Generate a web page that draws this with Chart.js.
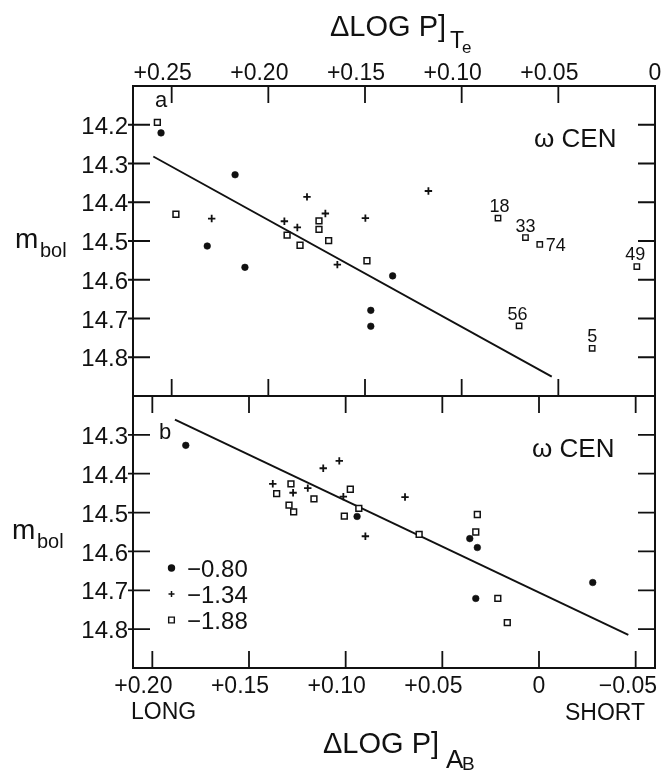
<!DOCTYPE html>
<html><head><meta charset="utf-8">
<script src="https://cdn.jsdelivr.net/npm/chart.js@4/dist/chart.umd.min.js"></script>
<style>
html,body{margin:0;padding:0;background:#fff;}
#wrap{position:relative;width:662px;height:772px;overflow:hidden;}
canvas{position:absolute;left:0;top:0;}
</style></head><body>
<div id="wrap"><canvas id="ca" width="662" height="772"></canvas><canvas id="cb" width="662" height="772"></canvas></div>
<script>
// ---------- Panel a (top) ----------
const aTickX = [0.25, 0.20, 0.15, 0.10, 0.05, 0];
const aTickXLabels = ['+0.25', '+0.20', '+0.15', '+0.10', '+0.05', '0'];
const aTickY = [14.2, 14.3, 14.4, 14.5, 14.6, 14.7, 14.8];
const aTickYLabels = ['14.2', '14.3', '14.4', '14.5', '14.6', '14.7', '14.8'];

const aCircX = [0.2555, 0.2172, 0.2316, 0.2121, 0.1470, 0.1470, 0.1357];
const aCircY = [14.221, 14.329, 14.513, 14.568, 14.679, 14.720, 14.590];
const aPlusX = [0.2293, 0.1917, 0.1850, 0.1800, 0.1705, 0.1643, 0.1498, 0.1172];
const aPlusY = [14.442, 14.449, 14.465, 14.386, 14.429, 14.561, 14.441, 14.371];
const aSqX = [0.2574, 0.2478, 0.1903, 0.1836, 0.1738, 0.1738, 0.1688, 0.1490];
const aSqY = [14.194, 14.431, 14.485, 14.511, 14.448, 14.470, 14.499, 14.551];
// labelled stars
const aStarNames = ['18', '33', '74', '49', '56', '5'];
const aStarX = [0.0812, 0.0670, 0.0596, 0.0094, 0.0703, 0.0325];
const aStarY = [14.441, 14.491, 14.509, 14.566, 14.719, 14.777];
const aLineX = [0.2595, 0.0534];
const aLineY = [14.282, 14.850];

// ---------- Panel b (bottom) ----------
const bTickX = [0.20, 0.15, 0.10, 0.05, 0, -0.05];
const bTickXLabels = ['+0.20', '+0.15', '+0.10', '+0.05', '0', '\u22120.05'];
const bTickY = [14.3, 14.4, 14.5, 14.6, 14.7, 14.8];
const bTickYLabels = ['14.3', '14.4', '14.5', '14.6', '14.7', '14.8'];

const bCircX = [0.1827, 0.0941, 0.0358, 0.0319, -0.0278, 0.0327];
const bCircY = [14.327, 14.510, 14.567, 14.590, 14.680, 14.721];
const bPlusX = [0.1377, 0.1272, 0.1196, 0.1116, 0.1033, 0.1012, 0.0898, 0.0693];
const bPlusY = [14.426, 14.449, 14.437, 14.386, 14.367, 14.459, 14.561, 14.460];
const bSqX = [0.1357, 0.1283, 0.1293, 0.1269, 0.1164, 0.0976, 0.1007, 0.0932, 0.0620, 0.0319, 0.0327, 0.0213, 0.0164];
const bSqY = [14.451, 14.426, 14.481, 14.498, 14.465, 14.440, 14.509, 14.489, 14.556, 14.505, 14.550, 14.721, 14.783];
const bLineX = [0.1883, -0.0462];
const bLineY = [14.261, 14.815];

const legendLabels = ['\u22120.80', '\u22121.34', '\u22121.88'];

// ---------- helpers ----------
const FONT = "'Liberation Sans', Arial, sans-serif";
const INK = '#111';
const zip = (xs, ys) => xs.map((x, i) => ({x: x, y: ys[i]}));

function pointDs(xs, ys, style, label) {
  const base = {label: label, data: zip(xs, ys), showLine: false, borderColor: INK};
  if (style === 'circle') return Object.assign(base, {pointStyle: 'circle', pointRadius: 3.3, pointBorderWidth: 0.6, pointBackgroundColor: INK, pointBorderColor: INK});
  if (style === 'cross') return Object.assign(base, {pointStyle: 'cross', pointRadius: 3.7, pointBorderWidth: 1.8, pointBorderColor: INK});
  return Object.assign(base, {pointStyle: 'rect', pointRadius: 4.1, pointBorderWidth: 1.5, pointBackgroundColor: '#fff', pointBorderColor: INK});
}
function lineDs(xs, ys) {
  return {label: 'fit', data: zip(xs, ys), showLine: true, borderColor: INK, borderWidth: 1.9, pointRadius: 0, fill: false, tension: 0};
}

function panelPlugin(cfg) {
  return {
    id: 'panel_' + cfg.name,
    afterDraw(chart) {
      const ctx = chart.ctx, ca = chart.chartArea;
      const xs = chart.scales.x, ys = chart.scales.y;
      ctx.save();
      ctx.strokeStyle = INK; ctx.fillStyle = INK;
      ctx.lineWidth = 2;
      ctx.strokeRect(ca.left, ca.top, ca.right - ca.left, ca.bottom - ca.top);
      ctx.lineWidth = 1.8;
      ctx.beginPath();
      cfg.xTicks.forEach(v => {
        const p = xs.getPixelForValue(v);
        ctx.moveTo(p, ca.top); ctx.lineTo(p, ca.top + 17);
        ctx.moveTo(p, ca.bottom); ctx.lineTo(p, ca.bottom - 17);
      });
      cfg.yTicks.forEach(v => {
        const p = ys.getPixelForValue(v);
        ctx.moveTo(ca.left - 5, p); ctx.lineTo(ca.left + 17, p);
        ctx.moveTo(ca.right, p); ctx.lineTo(ca.right - 17, p);
      });
      ctx.stroke();
      ctx.font = '24px ' + FONT;
      ctx.textAlign = 'right'; ctx.textBaseline = 'middle';
      cfg.yTicks.forEach((v, i) => {
        ctx.fillText(cfg.yLabels[i], ca.left - 5, ys.getPixelForValue(v) + 2.5);
      });
      ctx.font = '23px ' + FONT;
      ctx.textAlign = 'center'; ctx.textBaseline = 'alphabetic';
      cfg.xTicks.forEach((v, i) => {
        const t = cfg.xLabels[i];
        let c = xs.getPixelForValue(v) + (t[0] === '+' ? -9 : 0);
        const w = ctx.measureText(t).width;
        if (cfg.clampRight && c + w / 2 > 657) c = 657 - w / 2;
        ctx.fillText(t, c, cfg.xLabelBase);
      });
      ctx.textAlign = 'left';
      ctx.font = '28px ' + FONT;
      ctx.fillText('m', cfg.mX, cfg.mBase);
      ctx.font = '20px ' + FONT;
      ctx.fillText('bol', cfg.mX + 25, cfg.mBase + 9);
      ctx.font = '22px ' + FONT;
      ctx.fillText(cfg.letter, cfg.letterX, cfg.letterBase);
      ctx.font = '26px ' + FONT;
      ctx.fillText('\u03c9 CEN', cfg.cenX, cfg.cenBase);
      if (cfg.extra) cfg.extra(chart, ctx, xs, ys);
      ctx.restore();
    }
  };
}

function makeChart(id, datasets, scaleX, scaleY, padding, plugin) {
  return new Chart(document.getElementById(id), {
    type: 'scatter',
    data: {datasets: datasets},
    options: {
      responsive: false, animation: false, devicePixelRatio: 1,
      layout: {padding: padding},
      plugins: {legend: {display: false}, tooltip: {enabled: false}},
      scales: {
        x: Object.assign({type: 'linear', display: false, reverse: true}, scaleX),
        y: Object.assign({type: 'linear', display: false, reverse: true}, scaleY)
      }
    },
    plugins: [plugin]
  });
}

makeChart('ca', [
  pointDs(aCircX, aCircY, 'circle', '-0.80'),
  pointDs(aPlusX, aPlusY, 'cross', '-1.34'),
  pointDs(aSqX, aSqY, 'rect', '-1.88'),
  Object.assign(pointDs(aStarX, aStarY, 'rect', 'named'), {pointRadius: 3.8, pointBorderWidth: 1.4}),
  lineDs(aLineX, aLineY)
], {min: 0, max: 0.27}, {min: 14.1, max: 14.9},
{left: 133, right: 7, top: 86, bottom: 376},
panelPlugin({
  name: 'a', xTicks: aTickX, xLabels: aTickXLabels, yTicks: aTickY, yLabels: aTickYLabels,
  xLabelBase: 80, clampRight: false, mX: 15, mBase: 248,
  letter: 'a', letterX: 155, letterBase: 107, cenX: 534, cenBase: 147,
  extra(chart, ctx, xs, ys) {
    ctx.textAlign = 'left';
    ctx.font = '29px ' + FONT;
    ctx.fillText('\u0394LOG P]', 330, 36);
    ctx.font = '23px ' + FONT;
    ctx.fillText('T', 450, 48);
    ctx.font = '17px ' + FONT;
    ctx.fillText('e', 462, 53);
    const offs = [[1.5, -6, 'center'], [0, -6, 'center'], [6, 6.5, 'left'], [-1.5, -7, 'center'], [-1.5, -6, 'center'], [0, -6, 'center']];
    ctx.font = '18px ' + FONT;
    aStarNames.forEach((n, i) => {
      const px = xs.getPixelForValue(aStarX[i]), py = ys.getPixelForValue(aStarY[i]);
      ctx.textAlign = offs[i][2];
      ctx.fillText(n, px + offs[i][0], py + offs[i][1]);
    });
  }
}));

makeChart('cb', [
  pointDs(bCircX, bCircY, 'circle', '-0.80'),
  pointDs(bPlusX, bPlusY, 'cross', '-1.34'),
  pointDs(bSqX, bSqY, 'rect', '-1.88'),
  lineDs(bLineX, bLineY)
], {min: -0.06, max: 0.21}, {min: 14.2, max: 14.9},
{left: 133, right: 7, top: 396, bottom: 104},
panelPlugin({
  name: 'b', xTicks: bTickX, xLabels: bTickXLabels, yTicks: bTickY, yLabels: bTickYLabels,
  xLabelBase: 693, clampRight: true, mX: 12, mBase: 539,
  letter: 'b', letterX: 159, letterBase: 439, cenX: 532, cenBase: 457,
  extra(chart, ctx, xs, ys) {
    ctx.textAlign = 'left';
    ctx.font = '23px ' + FONT;
    ctx.fillText('LONG', 131, 719);
    ctx.fillText('SHORT', 565, 720);
    ctx.font = '29px ' + FONT;
    ctx.fillText('\u0394LOG P]', 323, 753);
    ctx.font = '26px ' + FONT;
    ctx.fillText('A', 446, 768);
    ctx.font = '19px ' + FONT;
    ctx.fillText('B', 462, 770);
    const styles = ['circle', 'cross', 'rect'];
    const ys0 = [568, 594, 620];
    const radii = [3, 3, 4];
    ctx.font = '24px ' + FONT;
    styles.forEach((s, i) => {
      ctx.lineWidth = s === 'cross' ? 1.5 : 1.4;
      ctx.fillStyle = s === 'rect' ? '#fff' : INK;
      Chart.helpers.drawPoint(ctx, {pointStyle: s, radius: radii[i], borderWidth: ctx.lineWidth}, 171.5, ys0[i]);
      ctx.fillStyle = INK;
      ctx.fillText(legendLabels[i], 187, ys0[i] + 8.5);
    });
  }
}));
</script>
</body></html>
